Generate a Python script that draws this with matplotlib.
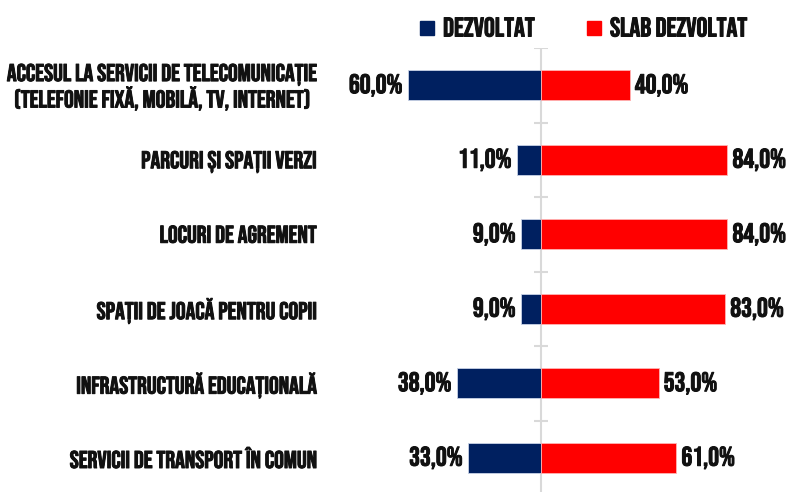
import matplotlib.pyplot as plt
import matplotlib.patheffects as pe
from matplotlib.patches import Rectangle

categories = [
    "ACCESUL LA SERVICII DE TELECOMUNICAȚIE\n(TELEFONIE FIXĂ, MOBILĂ, TV, INTERNET)",
    "PARCURI ȘI SPAȚII VERZI",
    "LOCURI DE AGREMENT",
    "SPAȚII DE JOACĂ PENTRU COPII",
    "INFRASTRUCTURĂ EDUCAȚIONALĂ",
    "SERVICII DE TRANSPORT ÎN COMUN",
]
dezvoltat = [60.0, 11.0, 9.0, 9.0, 38.0, 33.0]
slab_dezvoltat = [40.0, 84.0, 84.0, 83.0, 53.0, 61.0]
series_names = ["DEZVOLTAT", "SLAB DEZVOLTAT"]

NAVY = "#002060"
RED = "#FF0000"
INK = "#111111"
FONT = ["Bebas Neue", "Barlow Condensed", "DejaVu Sans"]
# thin outline in the text colour to make the glyphs a touch heavier
HEAVY = [pe.withStroke(linewidth=0.7, foreground=INK)]

W, H = 788, 492
fig = plt.figure(figsize=(W / 100, H / 100), dpi=100)

# axes in pixel terms: centre line at x=541, rows from y=48 downwards
scale = 2.22  # px per percent
left_px, right_px, center_px = 330, 788, 541
top_px, bottom_px = 48, 495
ax = fig.add_axes([left_px / W, (H - bottom_px) / H,
                   (right_px - left_px) / W, (bottom_px - top_px) / H])
ax.set_xlim(-(center_px - left_px) / scale, (right_px - center_px) / scale)
ax.set_ylim(len(categories) - 0.5, -0.5)

y = range(len(categories))
ax.barh(y, [-v for v in dezvoltat], height=0.4, color=NAVY,
        edgecolor="#c9d3e6", linewidth=0.6, zorder=2)
ax.barh(y, slab_dezvoltat, height=0.4, color=RED,
        edgecolor="#ffb3b3", linewidth=0.6, zorder=2)

gap = 5 / scale
for i, (d, s) in enumerate(zip(dezvoltat, slab_dezvoltat)):
    ax.text(-d - gap, i, f"{d:.1f}%".replace(".", ","), ha="right", va="center",
            fontsize=19.5, family=FONT, color=INK, path_effects=HEAVY)
    ax.text(s + gap, i, f"{s:.1f}%".replace(".", ","), ha="left", va="center",
            fontsize=19.5, family=FONT, color=INK, path_effects=HEAVY)

# centre axis with small ticks between categories
ax.axvline(0, color="#d9d9d9", linewidth=1.5, zorder=1)
bounds = [k - 0.5 for k in range(len(categories))]
ax.plot([0] * len(bounds), bounds, linestyle="none", marker="_",
        markersize=10, markeredgewidth=1.5, color="#d9d9d9", zorder=1)

ax.set_yticks(list(y))
ax.set_yticklabels(categories, fontsize=17.5, family=FONT,
                   color=INK, ha="right", multialignment="center",
                   linespacing=1.05)
for lbl in ax.get_yticklabels():
    lbl.set_path_effects(HEAVY)
ax.tick_params(axis="y", length=0, pad=10)
ax.set_xticks([])
for sp in ax.spines.values():
    sp.set_visible(False)

# legend across the top
lx = [420 / W, 587 / W]
for x0, name, col in zip(lx, series_names, [NAVY, RED]):
    fig.patches.append(Rectangle((x0, (H - 35) / H), 14 / W, 14 / H,
                                 transform=fig.transFigure, color=col))
    fig.text(x0 + 23 / W, (H - 27) / H, name, ha="left", va="center",
             fontsize=19.5, family=FONT, color=INK, path_effects=HEAVY)

fig.savefig("out.png", dpi=100)
